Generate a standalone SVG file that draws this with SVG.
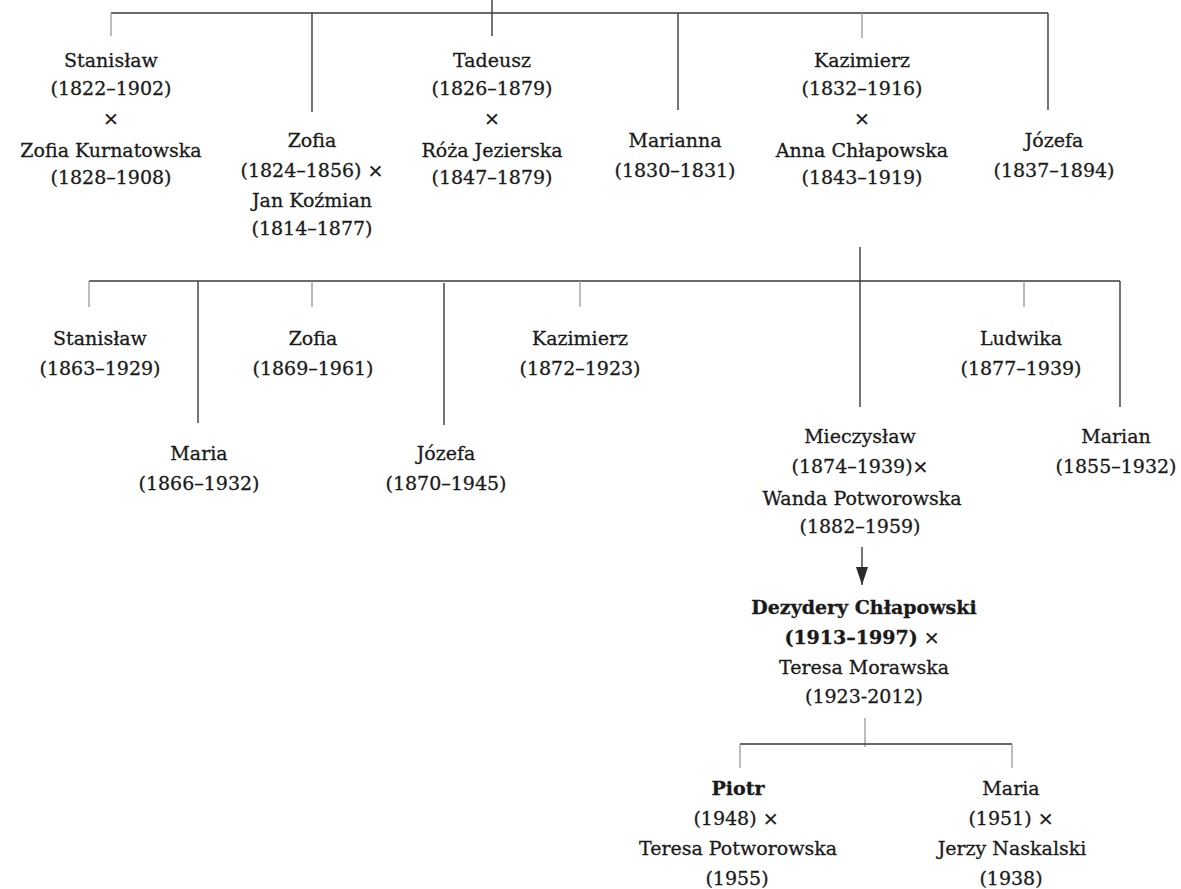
<svg xmlns="http://www.w3.org/2000/svg" width="1181" height="889" viewBox="0 0 1181 889">
<style>
.t{font-family:"DejaVu Serif","Liberation Serif",serif;font-size:19px;fill:#1a1a1a;stroke:#1a1a1a;stroke-width:0.3;text-anchor:middle}
.b{font-weight:bold}
.l{stroke:#3a3a3a;stroke-width:1.4;fill:none}
.g{stroke:#a0a0a0;stroke-width:1.4;fill:none}
</style>
<defs>
<marker id="ah" viewBox="0 0 18 12" refX="18" refY="6" markerWidth="18" markerHeight="12" markerUnits="userSpaceOnUse" orient="auto">
<path d="M0,0 L18,6 L0,12 Z" fill="#2a2a2a"/>
</marker>
</defs>
<rect width="1181" height="889" fill="#ffffff"/>
<g id="connectors">
<line class="l" x1="492" y1="0" x2="492" y2="36"/>
<line class="l" x1="111" y1="13" x2="1048" y2="13"/>
<line class="g" x1="111" y1="13" x2="111" y2="36"/>
<line class="l" x1="312" y1="13" x2="312" y2="112"/>
<line class="l" x1="678" y1="13" x2="678" y2="110"/>
<line class="g" x1="862" y1="13" x2="862" y2="38"/>
<line class="l" x1="1048" y1="13" x2="1048" y2="110"/>
<line class="l" x1="860" y1="247" x2="860" y2="407"/>
<line class="l" x1="89" y1="281" x2="1120" y2="281"/>
<line class="g" x1="89" y1="281" x2="89" y2="307"/>
<line class="l" x1="198" y1="281" x2="198" y2="423"/>
<line class="g" x1="312" y1="281" x2="312" y2="307"/>
<line class="l" x1="444" y1="283" x2="444" y2="425"/>
<line class="g" x1="580" y1="281" x2="580" y2="307"/>
<line class="g" x1="1024" y1="281" x2="1024" y2="307"/>
<line class="l" x1="1120" y1="281" x2="1120" y2="407"/>
<line class="l" x1="862" y1="547" x2="862" y2="585" marker-end="url(#ah)"/>
<line class="g" x1="865" y1="718" x2="865" y2="747"/>
<line class="l" x1="740" y1="744" x2="1012" y2="744"/>
<line class="g" x1="740" y1="744" x2="740" y2="768"/>
<line class="g" x1="1012" y1="744" x2="1012" y2="768"/>
</g>
<g id="n_stanislaw1"><text class="t"><tspan x="111" y="67">Stanisław</tspan><tspan x="111" y="95">(1822–1902)</tspan><tspan x="111" y="125">×</tspan><tspan x="111" y="157">Zofia Kurnatowska</tspan><tspan x="111" y="184">(1828–1908)</tspan></text></g>
<g id="n_zofia1"><text class="t"><tspan x="312" y="147">Zofia</tspan><tspan x="312" y="177">(1824–1856) ×</tspan><tspan x="312" y="207">Jan Koźmian</tspan><tspan x="312" y="235">(1814–1877)</tspan></text></g>
<g id="n_tadeusz"><text class="t"><tspan x="492" y="67">Tadeusz</tspan><tspan x="492" y="95">(1826–1879)</tspan><tspan x="492" y="125">×</tspan><tspan x="492" y="157">Róża Jezierska</tspan><tspan x="492" y="184">(1847–1879)</tspan></text></g>
<g id="n_marianna"><text class="t"><tspan x="675" y="147">Marianna</tspan><tspan x="675" y="177">(1830–1831)</tspan></text></g>
<g id="n_kazimierz1"><text class="t"><tspan x="862" y="67">Kazimierz</tspan><tspan x="862" y="95">(1832–1916)</tspan><tspan x="862" y="125">×</tspan><tspan x="862" y="157">Anna Chłapowska</tspan><tspan x="862" y="184">(1843–1919)</tspan></text></g>
<g id="n_jozefa1"><text class="t"><tspan x="1054" y="147">Józefa</tspan><tspan x="1054" y="177">(1837–1894)</tspan></text></g>
<g id="n_stanislaw2"><text class="t"><tspan x="100" y="345">Stanisław</tspan><tspan x="100" y="375">(1863–1929)</tspan></text></g>
<g id="n_maria2"><text class="t"><tspan x="199" y="460">Maria</tspan><tspan x="199" y="490">(1866–1932)</tspan></text></g>
<g id="n_zofia2"><text class="t"><tspan x="313" y="345">Zofia</tspan><tspan x="313" y="375">(1869–1961)</tspan></text></g>
<g id="n_jozefa2"><text class="t"><tspan x="446" y="460">Józefa</tspan><tspan x="446" y="490">(1870–1945)</tspan></text></g>
<g id="n_kazimierz2"><text class="t"><tspan x="580" y="345">Kazimierz</tspan><tspan x="580" y="375">(1872–1923)</tspan></text></g>
<g id="n_ludwika"><text class="t"><tspan x="1021" y="345">Ludwika</tspan><tspan x="1021" y="375">(1877–1939)</tspan></text></g>
<g id="n_mieczyslaw"><text class="t"><tspan x="860" y="443">Mieczysław</tspan><tspan x="860" y="473">(1874–1939)×</tspan><tspan x="862" y="505">Wanda Potworowska</tspan><tspan x="860" y="533">(1882–1959)</tspan></text></g>
<g id="n_marian"><text class="t"><tspan x="1116" y="443">Marian</tspan><tspan x="1116" y="473">(1855–1932)</tspan></text></g>
<g id="n_dezydery"><text class="t"><tspan class="b" x="864" y="614">Dezydery Chłapowski</tspan><tspan x="862" y="644"><tspan class="b">(1913–1997)</tspan> ×</tspan><tspan x="864" y="674">Teresa Morawska</tspan><tspan x="864" y="703">(1923-2012)</tspan></text></g>
<g id="n_piotr"><text class="t"><tspan class="b" x="738" y="795">Piotr</tspan><tspan x="736" y="825">(1948) ×</tspan><tspan x="738" y="855">Teresa Potworowska</tspan><tspan x="737" y="885">(1955)</tspan></text></g>
<g id="n_maria3"><text class="t"><tspan x="1011" y="795">Maria</tspan><tspan x="1011" y="825">(1951) ×</tspan><tspan x="1012" y="855">Jerzy Naskalski</tspan><tspan x="1011" y="885">(1938)</tspan></text></g>
</svg>
